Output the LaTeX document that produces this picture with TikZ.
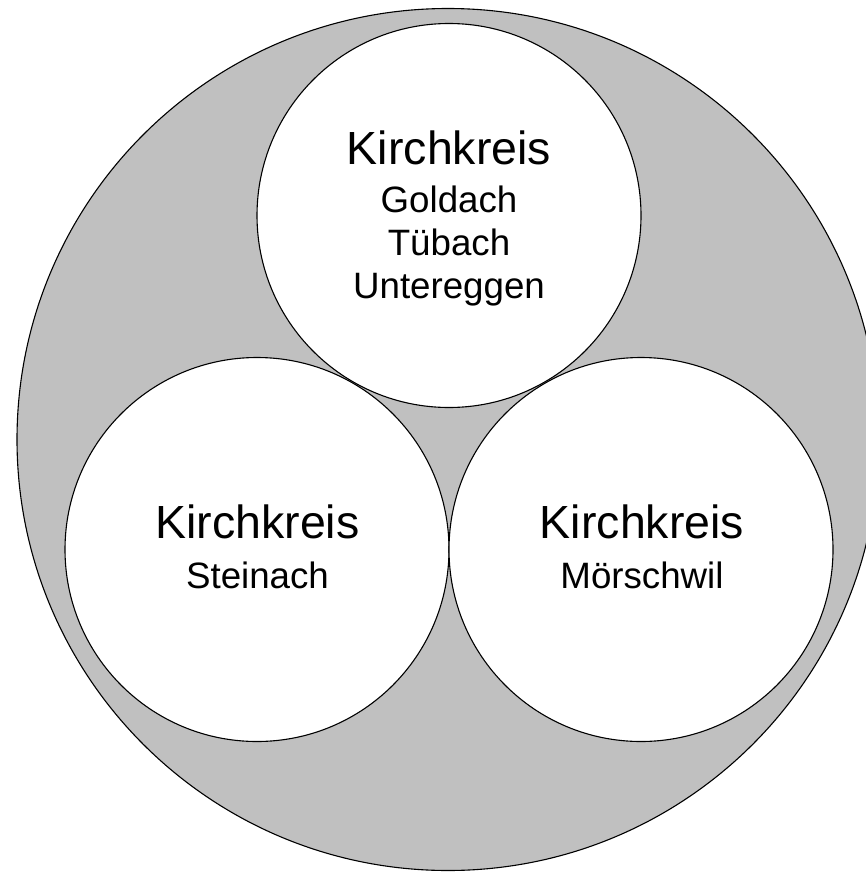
\documentclass[tikz,border=0pt]{standalone}
\usepackage{fontspec}
\setmainfont{Liberation Sans}
\definecolor{ringgray}{HTML}{C0C0C0}
\begin{document}
\begin{tikzpicture}[x=1pt,y=-1pt,
  outer/.style={circle,draw=black,fill=ringgray,line width=1.1pt,minimum size=862pt,inner sep=0pt,outer sep=0pt},
  kreis/.style={circle,draw=black,fill=white,line width=1.1pt,minimum size=384pt,inner sep=0pt,outer sep=0pt},
  bigtxt/.style={anchor=base,inner sep=0pt,font=\fontsize{46.5}{50}\selectfont},
  smalltxt/.style={anchor=base,inner sep=0pt,font=\fontsize{36.7}{40}\selectfont}]
\useasboundingbox (0,0) rectangle (866,872);
\clip (0,0) rectangle (866,872);
\node[outer] (ring) at (448,439.5) {};
\node[kreis] (top) at (449,215.5) {};
\node[kreis] (left) at (257,549.5) {};
\node[kreis] (right) at (641,549.5) {};
\node[bigtxt] (t1) at (449,164.6) {Kirchkreis};
\node[smalltxt] (t2) at (449,212.7) {Goldach};
\node[smalltxt] (t3) at (449,255.3) {Tübach};
\node[smalltxt] (t4) at (449,298) {Untereggen};
\node[bigtxt] (l1) at (257.5,538.7) {Kirchkreis};
\node[smalltxt] (l2) at (257.5,588) {Steinach};
\node[bigtxt] (r1) at (642,538.7) {Kirchkreis};
\node[smalltxt] (r2) at (642,588) {Mörschwil};
\end{tikzpicture}
\end{document}
